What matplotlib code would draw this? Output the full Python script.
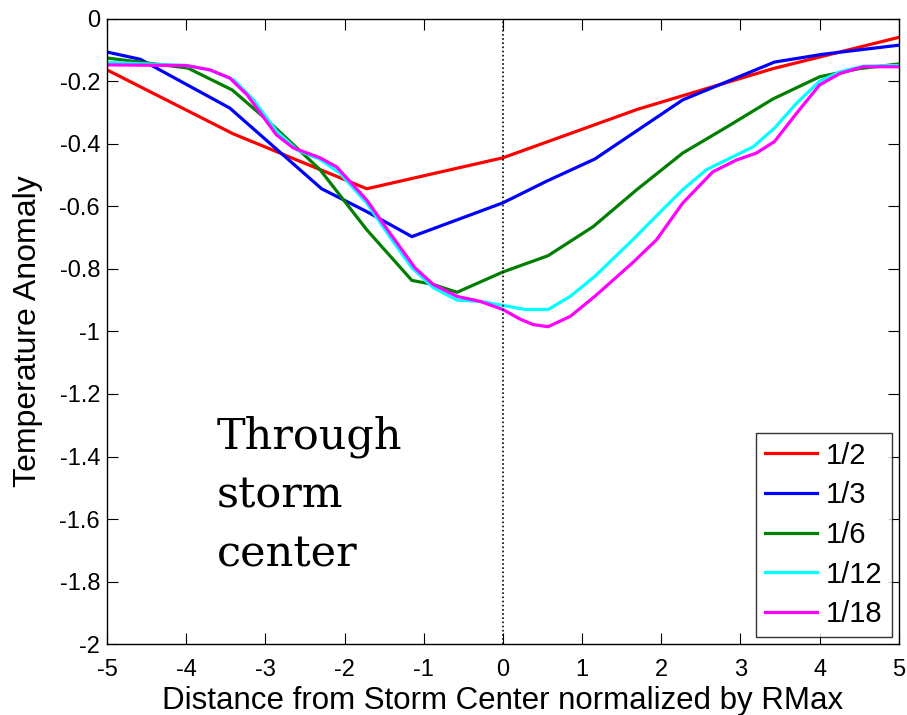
import matplotlib
matplotlib.use("Agg")
import matplotlib.pyplot as plt

x_half = [-5, -3.41, -1.72, 0, 1.7, 3.41, 5]
y_half = [-0.164, -0.368, -0.544, -0.445, -0.29, -0.16, -0.06]

x_third = [-5, -4.58, -3.45, -2.29, -1.72, -1.15, 0, 0.55, 1.16, 2.27, 3.43, 4.04, 5]
y_third = [-0.107, -0.13, -0.286, -0.544, -0.617, -0.697, -0.589, -0.52, -0.449, -0.26, -0.139, -0.114, -0.085]

x_sixth = [-5, -3.98, -3.42, -2.98, -2.31, -1.72, -1.15, -0.88, -0.58, 0, 0.57, 1.14, 1.69, 2.27, 2.87, 3.41, 4.0, 4.5, 5]
y_sixth = [-0.126, -0.158, -0.228, -0.324, -0.483, -0.675, -0.837, -0.85, -0.875, -0.81, -0.758, -0.665, -0.547, -0.43, -0.34, -0.257, -0.186, -0.16, -0.145]

x_twelfth = [-5, -4.0, -3.7, -3.4, -3.15, -2.86, -2.6, -2.31, -2.06, -1.72, -1.43, -1.15, -0.88, -0.58, -0.29, 0, 0.28, 0.57, 0.85, 1.16, 1.64, 1.98, 2.27, 2.57, 2.87, 3.16, 3.43, 3.71, 4.0, 4.26, 4.55, 5]
y_twelfth = [-0.14, -0.15, -0.164, -0.196, -0.26, -0.36, -0.42, -0.45, -0.494, -0.59, -0.697, -0.797, -0.86, -0.9, -0.904, -0.917, -0.93, -0.93, -0.888, -0.824, -0.707, -0.62, -0.547, -0.483, -0.446, -0.41, -0.35, -0.27, -0.2, -0.17, -0.152, -0.15]

x_18th = [-5, -4.0, -3.7, -3.45, -3.23, -2.86, -2.65, -2.31, -2.1, -1.72, -1.43, -1.11, -0.88, -0.58, -0.29, 0, 0.21, 0.38, 0.57, 0.85, 1.16, 1.64, 1.94, 2.27, 2.65, 2.95, 3.2, 3.43, 3.71, 4.0, 4.26, 4.55, 5]
y_18th = [-0.148, -0.15, -0.164, -0.19, -0.244, -0.372, -0.413, -0.445, -0.474, -0.58, -0.685, -0.797, -0.85, -0.888, -0.904, -0.93, -0.96, -0.978, -0.985, -0.952, -0.888, -0.78, -0.707, -0.59, -0.49, -0.452, -0.43, -0.393, -0.302, -0.212, -0.175, -0.154, -0.154]

labels = ["1/2", "1/3", "1/6", "1/12", "1/18"]
colors = ["#ff0000", "#0000ff", "#007f00", "#00ffff", "#ff00ff"]
xticks = [-5, -4, -3, -2, -1, 0, 1, 2, 3, 4, 5]
yticks = [0, -0.2, -0.4, -0.6, -0.8, -1, -1.2, -1.4, -1.6, -1.8, -2]
yticklabels = ["0", "-0.2", "-0.4", "-0.6", "-0.8", "-1", "-1.2", "-1.4", "-1.6", "-1.8", "-2"]

plt.rcParams['font.family'] = ['Liberation Sans', 'DejaVu Sans']

fig = plt.figure(figsize=(9.07, 7.15), dpi=100)
ax = fig.add_axes([0.118, 0.099, 0.873, 0.875])

series = [(x_half, y_half), (x_third, y_third), (x_sixth, y_sixth), (x_twelfth, y_twelfth), (x_18th, y_18th)]
for (xs, ys), lab, c in zip(series, labels, colors):
    ax.plot(xs, ys, color=c, lw=2.3, label=lab)

ax.axvline(0, color='black', lw=1.2, ls=(0, (1, 1.5)))

ax.set_xlim(-5, 5)
ax.set_ylim(-2, 0)
ax.set_xticks(xticks)
ax.set_xticklabels([str(t) for t in xticks])
ax.set_yticks(yticks)
ax.set_yticklabels(yticklabels)
ax.tick_params(direction='in', length=8, width=0.8, top=True, right=True, labelsize=17)
ax.tick_params(axis='x', pad=11)
ax.tick_params(axis='y', pad=5)
for s in ax.spines.values():
    s.set_linewidth(1.0)

ax.set_xlabel("Distance from Storm Center normalized by RMax", fontsize=22.5, labelpad=3)
ax.set_ylabel("Temperature Anomaly", fontsize=23)
ax.yaxis.set_label_coords(-0.081, 0.5)

ax.text(-3.61, -1.75, "Through\nstorm\ncenter", family=['DejaVu Serif'], fontsize=31,
        ha='left', va='baseline', linespacing=1.5)

leg = ax.legend(loc='lower right', fontsize=21, frameon=True, fancybox=False,
                edgecolor='black', handlelength=1.8, handletextpad=0.3,
                borderaxespad=0.25, labelspacing=0.4, borderpad=0.3)
leg.get_frame().set_linewidth(1.0)

fig.savefig("out.png", dpi=100)
